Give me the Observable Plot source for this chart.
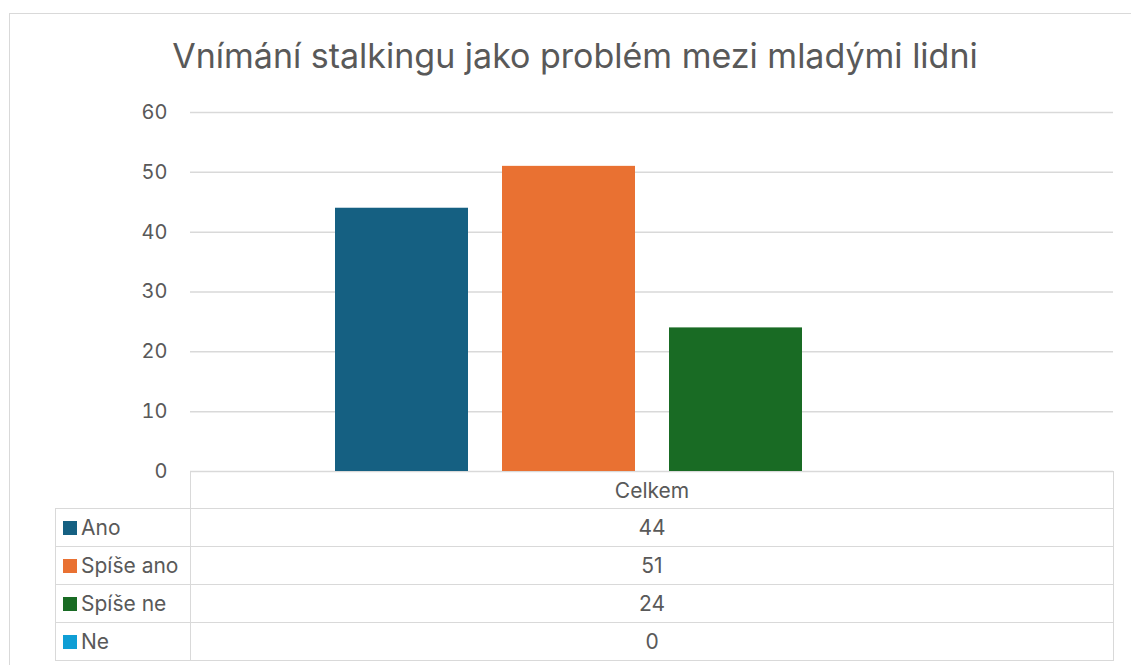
<!DOCTYPE html>
<html><head><meta charset="utf-8">
<script src="https://cdn.jsdelivr.net/npm/d3@7"></script>
<script src="https://cdn.jsdelivr.net/npm/@observablehq/plot@0.6"></script>
<style>
body{margin:0;background:#fff;font-family:Inter,"Open Sans",sans-serif;}
#wrap{position:relative;width:1131px;height:665px;overflow:hidden;background:#fff;}
#frame{position:absolute;left:9px;top:13px;width:1300px;height:800px;border-left:1.5px solid #d9d9d9;border-top:1.5px solid #d9d9d9;box-sizing:border-box;}
#title{position:absolute;left:0;width:1150px;top:35px;text-align:center;font-size:34px;color:#595959;white-space:nowrap;}
#chart{position:absolute;left:0;top:0;}
#tbl{position:absolute;left:55px;top:471px;border-collapse:collapse;table-layout:fixed;font-size:21px;color:#595959;}
#tbl td{border:1.5px solid #d9d9d9;padding:0;white-space:nowrap;}
#tbl td.v{text-align:center;}
#tbl td.l{padding-left:7px;}
.sw{display:inline-block;width:14px;height:14px;margin-right:4px;vertical-align:0px;}
</style></head>
<body>
<div id="wrap"><div id="frame"></div><div id="title"></div><div id="chart"></div><table id="tbl"></table></div>
<script>
const title = "Vnímání stalkingu jako problém mezi mladými lidni";
const groupLabel = "Celkem";
const categories = ["Ano", "Spíše ano", "Spíše ne", "Ne"];
const values = [44, 51, 24, 0];
const colors = ["#156082", "#E97132", "#196B24", "#0F9ED5"];
const yTicks = [0, 10, 20, 30, 40, 50, 60];

const data = categories.map((c, i) => ({category: c, value: values[i]}));

document.getElementById("title").textContent = title;

const chart = Plot.plot({
  width: 1131, height: 665,
  marginTop: 112, marginBottom: 194, marginLeft: 190, marginRight: 18,
  x: {domain: categories, paddingInner: 0.205, paddingOuter: 0.865, axis: null},
  y: {domain: [0, 60], label: null},
  color: {domain: categories, range: colors},
  style: {fontFamily: 'Inter,"Open Sans",sans-serif', fontSize: "20px", color: "#595959", background: "transparent"},
  marks: [
    Plot.gridY(yTicks, {stroke: "#d9d9d9", strokeOpacity: 1, strokeWidth: 1.5}),
    Plot.axisY(yTicks, {tickSize: 0, tickPadding: 23, fontSize: 20, fill: "#595959", label: null}),
    Plot.barY(data, {x: "category", y: "value", fill: "category"})
  ]
});
document.getElementById("chart").appendChild(chart);

const tbl = document.getElementById("tbl");
const colg = document.createElement("colgroup");
[135, 923].forEach(w => { const c = document.createElement("col"); c.style.width = w + "px"; colg.appendChild(c); });
tbl.appendChild(colg);
const hr = tbl.insertRow();
hr.style.height = "37px";
const c0 = hr.insertCell(); c0.style.borderTop = "none"; c0.style.borderLeft = "none";
const c1 = hr.insertCell(); c1.className = "v"; c1.textContent = groupLabel;
categories.forEach((cat, i) => {
  const r = tbl.insertRow();
  r.style.height = "38px";
  const l = r.insertCell(); l.className = "l";
  const sw = document.createElement("span"); sw.className = "sw"; sw.style.background = colors[i];
  l.appendChild(sw); l.appendChild(document.createTextNode(cat));
  const v = r.insertCell(); v.className = "v"; v.textContent = values[i];
});
</script>
</body></html>
